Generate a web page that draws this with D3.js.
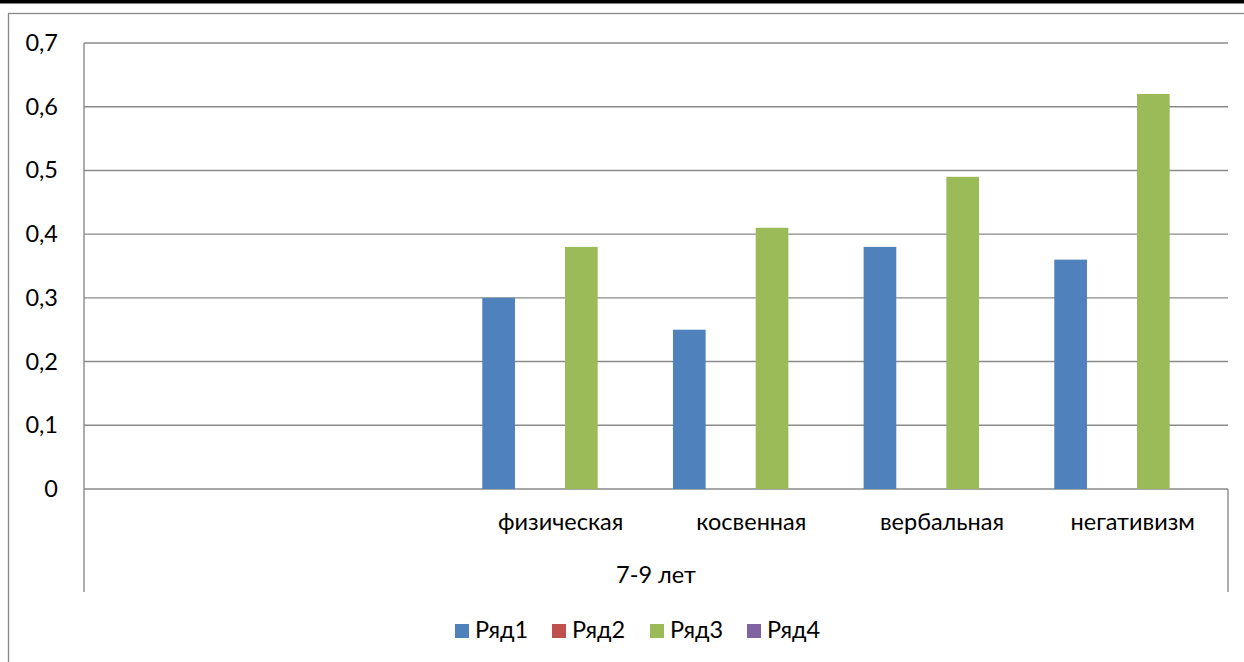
<!DOCTYPE html>
<html><head><meta charset="utf-8">
<script src="https://cdn.jsdelivr.net/npm/d3@7"></script>
<style>
html,body{margin:0;padding:0;background:#fff;}
svg{display:block;font-family:Lato, "Open Sans", sans-serif;}
</style></head>
<body>
<svg id="chart" width="1244" height="662"></svg>
<script>
const categories = ["", "", "физическая", "косвенная", "вербальная", "негативизм"];
const groupLabel = "7-9 лет";
const seriesNames = ["Ряд1", "Ряд2", "Ряд3", "Ряд4"];
const seriesColors = ["#4F81BD", "#C0504D", "#9BBB59", "#8064A2"];
const ryad1 = [null, null, 0.30, 0.25, 0.38, 0.36];
const ryad2 = [null, null, null, null, null, null];
const ryad3 = [null, null, 0.38, 0.41, 0.49, 0.62];
const ryad4 = [null, null, null, null, null, null];
const yTicks = [0, 0.1, 0.2, 0.3, 0.4, 0.5, 0.6, 0.7];

const seriesValues = [ryad1, ryad2, ryad3, ryad4];
const svg = d3.select("#chart");
const W = 1244, H = 662;
const FS = 23.5;
const plot = {left: 84, right: 1228, top: 43, bottom: 489};

// top black bar and chart border
svg.append("rect").attr("x", 0).attr("y", 0).attr("width", W).attr("height", 3.5).attr("fill", "#000");
svg.append("rect").attr("x", 8.5).attr("y", 13.5).attr("width", W + 10).attr("height", H + 10)
  .attr("fill", "none").attr("stroke", "#898989").attr("stroke-width", 1.3);

const x = d3.scaleBand().domain(d3.range(categories.length)).range([plot.left, plot.right]).padding(0);
const xs = d3.scaleBand().domain(d3.range(seriesNames.length)).range([0, x.bandwidth()])
  .paddingInner(0.21).paddingOuter(0.41);
const y = d3.scaleLinear().domain([0, 0.7]).range([plot.bottom, plot.top]);
const fmt = v => d3.format(".1~f")(v).replace(".", ",");

// gridlines
svg.append("g").selectAll("line").data(yTicks).join("line")
  .attr("x1", plot.left).attr("x2", plot.right)
  .attr("y1", d => y(d)).attr("y2", d => y(d))
  .attr("stroke", "#8a8a8a").attr("stroke-width", 1.4);

// y axis
const yAxis = d3.axisLeft(y).tickValues(yTicks).tickFormat(fmt).tickSize(0).tickPadding(26);
const yg = svg.append("g").attr("transform", `translate(${plot.left},0)`).call(yAxis);
yg.select(".domain").remove();
yg.selectAll("text").attr("font-size", FS).attr("fill", "#000").attr("font-family", "Lato");

// vertical axis lines (multi-level category boundaries)
svg.append("line").attr("x1", plot.left).attr("x2", plot.left).attr("y1", plot.top).attr("y2", 592)
  .attr("stroke", "#8a8a8a").attr("stroke-width", 1.4);
svg.append("line").attr("x1", plot.right).attr("x2", plot.right).attr("y1", plot.bottom).attr("y2", 592)
  .attr("stroke", "#8a8a8a").attr("stroke-width", 1.4);

// bars
seriesValues.forEach((vals, si) => {
  svg.append("g").selectAll("rect").data(vals.map((v, i) => ({v, i})).filter(d => d.v != null)).join("rect")
    .attr("x", d => x(d.i) + xs(si))
    .attr("width", xs.bandwidth())
    .attr("y", d => y(d.v))
    .attr("height", d => y(0) - y(d.v))
    .attr("fill", seriesColors[si]);
});

// category axis labels
const xAxis = d3.axisBottom(x).tickFormat(i => categories[i]).tickSize(0).tickPadding(24);
const xg = svg.append("g").attr("transform", `translate(0,${plot.bottom})`).call(xAxis);
xg.select(".domain").remove();
xg.selectAll("text").attr("font-size", FS).attr("fill", "#000").attr("font-family", "Lato");

svg.append("text").attr("x", (plot.left + plot.right) / 2).attr("y", 583)
  .attr("text-anchor", "middle").attr("font-size", FS).text(groupLabel);

// legend
const legendX = [455, 552, 650, 747];
const lg = svg.append("g");
seriesNames.forEach((n, i) => {
  lg.append("rect").attr("x", legendX[i]).attr("y", 624).attr("width", 14).attr("height", 14).attr("fill", seriesColors[i]);
  lg.append("text").attr("x", legendX[i] + 20).attr("y", 638).attr("font-size", FS).text(n);
});
</script>
</body></html>
